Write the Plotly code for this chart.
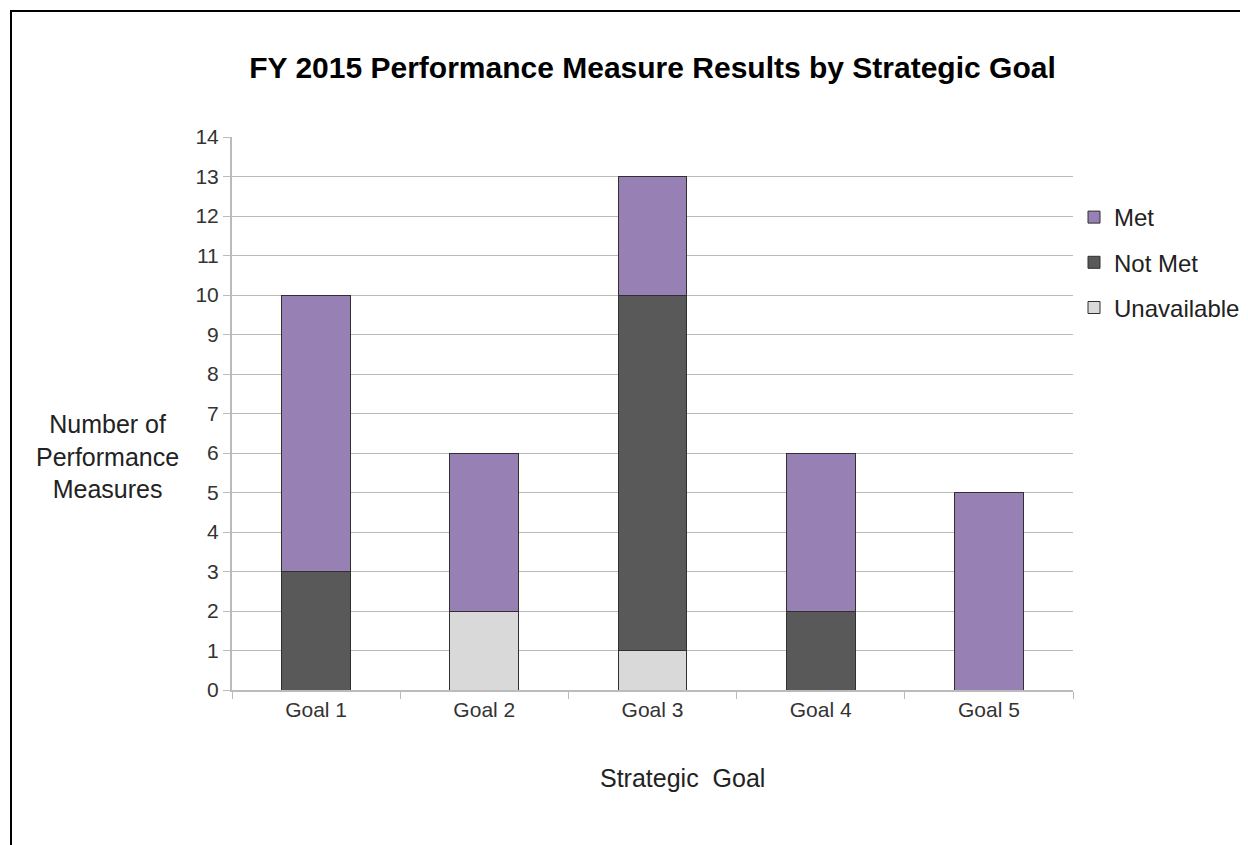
import plotly.graph_objects as go

goals = ["Goal 1", "Goal 2", "Goal 3", "Goal 4", "Goal 5"]
unavailable = [0, 2, 1, 0, 0]
not_met = [3, 0, 9, 2, 0]
met = [7, 4, 3, 4, 5]

series_names = ["Unavailable", "Not Met", "Met"]
series_values = [unavailable, not_met, met]
series_colors = ["#D9D9D9", "#595959", "#9680B4"]
legend_ranks = [3, 2, 1]

FONT = "Arial, Liberation Sans, sans-serif"
OFF = 8  # page body margin

fig = go.Figure()
for name, vals, col, rk in zip(series_names, series_values, series_colors, legend_ranks):
    fig.add_trace(go.Bar(
        x=goals, y=vals, name=name, legendgroup=name, legendrank=rk,
        marker=dict(color=col, line=dict(color="#303030", width=1)),
        width=0.41,
    ))

W, H = 1248 - OFF, 845 - OFF
# plot area in page pixels
L, R, T, B = 232, 1073, 137, 690
pw, ph = R - L, B - T

def px_x(p):
    return (p - L) / pw

def px_y(p):
    return (B - p) / ph

fig.update_layout(
    width=W, height=H,
    margin=dict(l=L - OFF, r=W - (R - OFF), t=T - OFF, b=H - (B - OFF),
                pad=0, autoexpand=False),
    barmode="stack",
    plot_bgcolor="white", paper_bgcolor="white",
    font=dict(family=FONT, size=21, color="#333333"),
    title=dict(text="<b>FY 2015 Performance Measure Results by Strategic Goal</b>",
               x=0.5, xref="paper", xanchor="center",
               y=1 - (67 - OFF) / H, yanchor="middle",
               font=dict(family=FONT, size=30, color="#000000")),
    legend=dict(x=px_x(1074), y=px_y(195), xanchor="left", yanchor="top",
                traceorder="grouped", tracegroupgap=11,
                font=dict(family=FONT, size=24, color="#222222"),
                itemwidth=30, bgcolor="rgba(0,0,0,0)"),
    showlegend=True,
    bargap=0.59,
)

fig.update_yaxes(range=[0, 14], dtick=1, tick0=0,
                 showgrid=True, gridcolor="#BBBBBB", gridwidth=1,
                 showline=True, linecolor="#BBBBBB", linewidth=2,
                 ticks="outside", ticklen=7, tickcolor="#BBBBBB",
                 tickfont=dict(size=21, color="#333333"),
                 zeroline=False)
fig.update_xaxes(showline=True, linecolor="#BBBBBB", linewidth=2,
                 ticks="outside", ticklen=7, tickcolor="#BBBBBB",
                 tickson="boundaries",
                 tickfont=dict(size=21, color="#333333"))

fig.add_annotation(text="Number of<br>Performance<br>Measures",
                   xref="paper", yref="paper", x=px_x(107), y=px_y(456),
                   xanchor="center", yanchor="middle", showarrow=False,
                   align="center",
                   font=dict(family=FONT, size=25, color="#222222"))
fig.add_annotation(text="Strategic  Goal",
                   xref="paper", yref="paper", x=px_x(682), y=px_y(778),
                   xanchor="center", yanchor="middle", showarrow=False,
                   font=dict(family=FONT, size=25, color="#222222"))

fig.add_shape(type="rect", xref="paper", yref="paper",
              x0=px_x(11), x1=px_x(1270), y0=px_y(870), y1=px_y(11),
              line=dict(color="#000000", width=2), fillcolor="rgba(0,0,0,0)",
              layer="above")

fig.write_html("out.html")
